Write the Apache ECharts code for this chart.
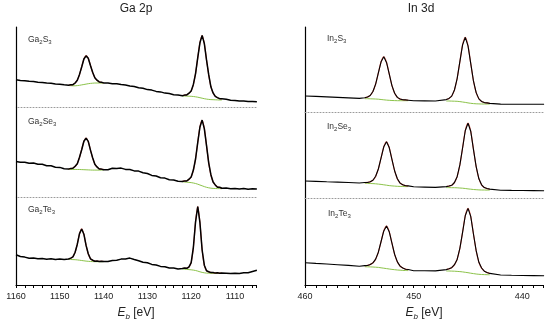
<!DOCTYPE html>
<html>
<head>
<meta charset="utf-8">
<script src="https://cdn.jsdelivr.net/npm/echarts@6/dist/echarts.min.js"></script>
<style>html,body{margin:0;padding:0;background:#fff}#c{width:550px;height:323px}</style>
</head>
<body>
<div id="c"></div>
<script>
// ---------- Ga 2p energies (eV) ----------
const GA_E = [1160,1159,1158,1157,1156,1155,1154,1153,1152,1151,1150,1149,
  1148,1147.5,1147,1146.5,1146,1145.5,1145,1144.5,1144,1143.5,1143,1142.5,1142,1141.5,1141,1140.5,1140,
  1139,1138,1137,1136,1135,1134,1133,1132,1131,1130,1129,1128,1127,1126,1125,1124,1123,
  1122,1121.5,1121,1120.5,1120,1119.5,1119,1118.5,1118,1117.5,1117,1116.5,1116,1115.5,1115,1114.5,1114,1113.5,1113,
  1112,1111,1110,1109,1108,1107,1106,1105];
const GA_E_P1 = [1148,1147.5,1147,1146.5,1146,1145.5,1145,1144.5,1144,1143.5,1143,1142.5,1142,1141.5,1141,1140.5,1140];
const GA_E_P2 = [1122,1121.5,1121,1120.5,1120,1119.5,1119,1118.5,1118,1117.5,1117,1116.5,1116,1115.5,1115,1114.5,1114,1113.5,1113];

// Ga2S3
const GA2S3_DATA = [27.2,26.6,26.3,25.7,25.4,24.8,24.6,24.0,23.8,23.1,22.7,22.2,
  21.8,22.2,22.3,24.0,26.7,32.6,40.0,48.0,51.2,48.8,41.5,34.7,29.3,26.8,25.1,24.7,24.1,
  23.9,23.3,23.3,22.5,22.1,21.0,20.5,19.2,18.7,17.4,16.9,15.6,15.1,13.9,13.4,12.3,11.9,
  11.3,11.9,12.1,13.8,16.1,22.6,33.4,49.4,64.2,71.6,63.5,47.1,32.3,20.2,14.1,10.6,9.4,8.3,8.2,
  7.8,6.8,6.5,5.9,5.9,5.5,5.5,5.2];
const GA2S3_FIT1 = [22.0,22.0,22.5,23.8,26.9,32.4,40.2,47.8,51.4,48.6,41.7,34.5,29.5,26.6,25.3,24.6,24.3];
const GA2S3_BG1 = [21.5,21.3,21.2,21.2,21.4,21.7,22.1,22.5,22.9,23.3,23.6,23.8,24.0,24.0,24.0,23.9,23.8];
const GA2S3_FIT2 = [11.5,11.8,12.2,13.6,16.3,22.4,33.6,49.2,64.4,71.5,63.4,47.3,32.1,20.4,13.9,10.8,9.3,8.5,8.1];
const GA2S3_BG2 = [11.0,11.0,10.9,10.8,10.7,10.5,10.2,9.8,9.3,8.8,8.3,7.9,7.6,7.4,7.3,7.2,7.1,7.0,7.0];

// Ga2Se3
const GA2SE3_DATA = [35.6,34.7,34.8,33.8,34.0,32.8,32.7,31.3,31.2,29.8,29.6,28.2,
  27.9,28.6,28.7,30.8,33.3,39.8,47.3,55.7,58.8,55.6,46.9,39.2,32.7,30.1,28.0,27.9,27.3,
  27.2,28.8,28.5,28.9,27.6,27.5,26.1,25.9,24.2,23.5,21.6,21.0,19.3,18.9,17.3,17.0,15.7,
  15.5,16.1,16.0,17.8,20.0,26.9,38.0,54.7,70.0,76.9,68.4,51.6,34.2,22.3,15.0,12.1,9.8,9.7,8.7,
  9.0,8.3,8.6,7.9,8.5,7.8,8.3,8.0];
const GA2SE3_FIT1 = [28.2,28.4,29.0,30.5,33.6,39.5,47.6,55.5,59.0,55.3,47.2,38.9,33.0,29.8,28.3,27.7,27.6];
const GA2SE3_BG1 = [27.6,27.6,27.6,27.6,27.5,27.5,27.4,27.3,27.2,27.1,27.0,26.9,26.9,26.9,26.9,26.9,27.0];
const GA2SE3_FIT2 = [15.8,15.9,16.3,17.5,20.3,26.6,38.2,54.5,70.2,76.7,68.6,51.4,34.4,22.0,15.2,11.8,10.1,9.4,9.0];
const GA2SE3_BG2 = [15.2,15.0,14.8,14.6,14.4,14.0,13.5,12.8,12.0,11.2,10.4,9.7,9.2,8.8,8.6,8.5,8.4,8.4,8.3];

// Ga2Te3
const GA2TE3_DATA = [30.2,28.5,27.9,26.7,26.9,26.2,26.6,25.8,26.3,25.6,26.1,25.5,
  26.0,26.9,28.1,32.8,40.8,51.4,56.0,50.8,39.6,31.2,26.2,24.8,23.8,24.0,23.5,23.8,23.4,
  23.4,24.5,24.7,25.9,26.1,26.9,25.5,24.3,22.7,22.2,20.6,20.0,18.6,18.2,17.0,16.9,16.0,
  16.4,16.9,16.7,18.1,22.4,37.7,63.2,78.5,62.3,35.0,19.8,14.2,13.3,12.4,12.5,11.9,12.2,11.7,12.0,
  11.8,11.5,11.8,11.6,12.2,12.3,13.5,14.7];
const GA2TE3_FIT1 = [26.3,26.7,28.3,32.6,41.0,51.2,56.2,50.6,39.8,31.0,26.4,24.6,24.0,23.8,23.7,23.6,23.6];
const GA2TE3_BG1 = [25.6,25.5,25.4,25.3,25.1,24.8,24.5,24.2,23.9,23.7,23.5,23.4,23.3,23.3,23.3,23.3,23.3];
const GA2TE3_FIT2 = [16.6,16.7,16.9,17.9,22.6,37.5,63.4,78.7,62.1,35.2,19.6,14.4,13.1,12.6,12.3,12.1,12.0,11.9,11.8];
const GA2TE3_BG2 = [16.0,15.8,15.6,15.4,15.2,14.9,14.5,13.9,13.2,12.6,12.2,11.9,11.8,11.7,11.7,11.6,11.6,11.6,11.6];

// ---------- In 3d energies (eV) ----------
const IN_E = [460,459,458,457,456,455,
  454.5,454.25,454,453.75,453.5,453.25,453,452.75,452.5,452.25,452,451.75,451.5,451.25,451,450.75,450.5,
  450,449,448,
  447,446.75,446.5,446.25,446,445.75,445.5,445.25,445,444.75,444.5,444.25,444,443.75,443.5,443.25,443,
  442,441,440,439,438];
const IN_E_P1 = [454.5,454.25,454,453.75,453.5,453.25,453,452.75,452.5,452.25,452,451.75,451.5,451.25,451,450.75,450.5];
const IN_E_P2 = [447,446.75,446.5,446.25,446,445.75,445.5,445.25,445,444.75,444.5,444.25,444,443.75,443.5,443.25,443];

// In2S3
const IN2S3_DATA = [16.0,15.6,15.1,14.6,14.1,13.6,
  14.2,15.0,16.5,20.5,27.9,39.2,50.2,55.3,49.6,38.1,26.4,18.8,14.6,13.0,12.2,12.1,11.8,
  11.2,11.1,11.0,
  12.4,13.6,15.9,22.0,33.4,50.3,67.1,74.7,66.2,48.6,31.1,19.4,13.1,10.6,9.4,9.1,8.6,
  7.9,7.8,7.8,7.7,7.7];
const IN2S3_FIT1 = [14.3,14.9,16.6,20.4,28.0,39.1,50.3,55.2,49.7,38.0,26.5,18.7,14.7,12.9,12.3,12.0,11.9];
const IN2S3_BG1 = [13.3,13.3,13.2,13.1,13.0,12.8,12.5,12.2,11.9,11.7,11.5,11.4,11.3,11.3,11.3,11.3,11.3];
const IN2S3_FIT2 = [12.5,13.5,16.0,21.9,33.5,50.2,67.2,74.6,66.3,48.5,31.2,19.3,13.2,10.5,9.5,9.1,8.7];
const IN2S3_BG2 = [11.0,11.0,10.9,10.8,10.7,10.4,10.0,9.6,9.1,8.7,8.4,8.2,8.1,8.0,8.0,8.0,7.9];

// In2Se3
const IN2SE3_DATA = [17.0,16.6,16.2,15.9,15.5,15.0,
  15.5,15.5,16.2,17.7,21.7,29.0,40.2,51.2,56.2,50.4,38.7,27.0,19.2,14.9,13.2,12.3,12.1,
  11.2,10.9,10.6,
  11.4,12.0,12.7,15.5,21.3,33.1,50.0,67.5,74.8,66.8,48.7,31.4,19.2,13.2,10.4,9.5,8.9,
  7.8,7.6,7.5,7.4,7.3];
const IN2SE3_FIT1 = [15.4,15.6,16.1,17.8,21.6,29.1,40.1,51.3,56.1,50.5,38.6,27.1,19.1,15.0,13.1,12.4,12.1];
const IN2SE3_BG1 = [14.7,14.6,14.5,14.4,14.2,13.9,13.6,13.2,12.8,12.4,12.1,11.9,11.7,11.6,11.5,11.4,11.4];
const IN2SE3_FIT2 = [11.5,11.9,12.8,15.4,21.4,33.0,50.1,67.4,74.9,66.7,48.8,31.3,19.3,13.1,10.5,9.4,9.0];
const IN2SE3_BG2 = [10.4,10.4,10.3,10.3,10.2,10.0,9.8,9.5,9.1,8.8,8.5,8.3,8.1,8.0,8.0,7.9,7.9];

// In2Te3
const IN2TE3_DATA = [22.3,21.6,21.0,20.3,19.6,18.8,
  19.4,19.5,20.5,22.1,25.9,32.8,43.5,54.1,59.0,53.3,41.9,30.5,23.1,18.9,17.0,15.8,15.5,
  14.3,14.2,14.1,
  15.4,16.2,17.3,20.3,25.6,36.7,52.7,69.5,76.6,68.6,51.0,34.3,22.7,17.0,13.8,12.5,11.6,
  10.0,9.7,9.5,9.4,9.3];
const IN2TE3_FIT1 = [19.3,19.6,20.4,22.2,25.8,32.9,43.4,54.2,58.9,53.4,41.8,30.6,23.0,19.0,16.9,15.9,15.4];
const IN2TE3_BG1 = [18.3,18.2,18.1,18.0,17.8,17.6,17.2,16.8,16.4,16.0,15.6,15.3,15.0,14.8,14.6,14.5,14.4];
const IN2TE3_FIT2 = [15.5,16.1,17.4,20.2,25.7,36.6,52.8,69.4,76.7,68.5,51.1,34.2,22.8,16.9,13.9,12.4,11.7];
const IN2TE3_BG2 = [14.0,14.0,13.9,13.8,13.6,13.4,13.1,12.7,12.3,11.8,11.4,11.0,10.7,10.5,10.4,10.3,10.2];

// tick labels
const GA_TICK_LABELS = [1160,1150,1140,1130,1120,1110];
const IN_TICK_LABELS = [460,450,440];
const TITLES = ['Ga 2p','In 3d'];

// ---------- build chart ----------
const FONT = 'Liberation Sans, Arial, sans-serif';
const GREEN = '#8cc34a', RED = '#e0483c';

const panels = [
  {name:['Ga','2','S','3'], E:GA_E, E1:GA_E_P1, E2:GA_E_P2, d:GA2S3_DATA, f1:GA2S3_FIT1, b1:GA2S3_BG1, f2:GA2S3_FIT2, b2:GA2S3_BG2},
  {name:['Ga','2','Se','3'], E:GA_E, E1:GA_E_P1, E2:GA_E_P2, d:GA2SE3_DATA, f1:GA2SE3_FIT1, b1:GA2SE3_BG1, f2:GA2SE3_FIT2, b2:GA2SE3_BG2},
  {name:['Ga','2','Te','3'], E:GA_E, E1:GA_E_P1, E2:GA_E_P2, d:GA2TE3_DATA, f1:GA2TE3_FIT1, b1:GA2TE3_BG1, f2:GA2TE3_FIT2, b2:GA2TE3_BG2},
  {name:['In','2','S','3'], E:IN_E, E1:IN_E_P1, E2:IN_E_P2, d:IN2S3_DATA, f1:IN2S3_FIT1, b1:IN2S3_BG1, f2:IN2S3_FIT2, b2:IN2S3_BG2},
  {name:['In','2','Se','3'], E:IN_E, E1:IN_E_P1, E2:IN_E_P2, d:IN2SE3_DATA, f1:IN2SE3_FIT1, b1:IN2SE3_BG1, f2:IN2SE3_FIT2, b2:IN2SE3_BG2},
  {name:['In','2','Te','3'], E:IN_E, E1:IN_E_P1, E2:IN_E_P2, d:IN2TE3_DATA, f1:IN2TE3_FIT1, b1:IN2TE3_BG1, f2:IN2TE3_FIT2, b2:IN2TE3_BG2}
];
// layout: [left, width, top, height]
const layout = [
  [16,240,27,80],[16,240,107,90],[16,240,197,88],
  [305,238,27,85],[305,238,112,86],[305,238,198,87]
];
const labelPos = [[28,35],[28,117],[28,205],[327,34],[327,122],[328,209]];

const zip = (xs, ys) => xs.map((x,i) => [x, ys[i]]);

const grid = [], xAxis = [], yAxis = [], series = [], graphic = [];
panels.forEach((p, i) => {
  const [l,w,t,h] = layout[i];
  const isGa = i < 3;
  const bottom = (i === 2 || i === 5);
  grid.push({left:l, top:t, width:w, height:h});
  const ticks = isGa ? GA_TICK_LABELS : IN_TICK_LABELS;
  xAxis.push({
    type:'value', gridIndex:i, inverse:true,
    min: isGa ? 1105.2 : 438.1, max: isGa ? 1160 : 460,
    splitNumber: isGa ? 5 : 2,
    axisLine: bottom ? {show:true, onZero:false, lineStyle:{color:'#000', width:1.2}}
                     : {show:true, onZero:false, lineStyle:{color:'#9a9a9a', width:1, type:[1,2]}},
    axisTick: {show:bottom, length:3, lineStyle:{color:'#000', width:1}},
    minorTick: {show:bottom, splitNumber: isGa ? 5 : 10, length:3, lineStyle:{color:'#000', width:1}},
    axisLabel: {show:bottom, margin:7, fontSize:9, color:'#222', fontFamily:FONT,
      formatter: v => ticks.indexOf(Math.round(v*10)/10) >= 0 ? String(v) : ''},
    splitLine:{show:false}, minorSplitLine:{show:false},
    name: bottom ? '{e|E}{b|b}{n| [eV]}' : '',
    nameLocation:'middle', nameGap:20,
    nameTextStyle:{fontFamily:FONT, color:'#222', rich:{
      e:{fontSize:12, fontStyle:'italic', lineHeight:16, fontFamily:FONT, color:'#222'},
      b:{fontSize:8, fontStyle:'italic', lineHeight:8, verticalAlign:'bottom', fontFamily:FONT, color:'#222'},
      n:{fontSize:12, lineHeight:16, fontFamily:FONT, color:'#222'}
    }}
  });
  yAxis.push({
    type:'value', gridIndex:i, min:0, max:h,
    axisLine:{show:true, onZero:false, lineStyle:{color:'#000', width:1.2}},
    axisTick:{show:false}, axisLabel:{show:false}, splitLine:{show:false}
  });
  const common = {type:'line', xAxisIndex:i, yAxisIndex:i, showSymbol:false, symbol:'none', silent:true, animation:false};
  series.push(Object.assign({}, common, {data:zip(p.E1,p.b1), smooth:0.3, z:1, lineStyle:{color:GREEN, width:1}}));
  series.push(Object.assign({}, common, {data:zip(p.E2,p.b2), smooth:0.3, z:1, lineStyle:{color:GREEN, width:1}}));
  series.push(Object.assign({}, common, {data:zip(p.E1,p.f1), smooth:0.3, z:2, lineStyle:{color:RED, width:1.2, opacity:0.8}}));
  series.push(Object.assign({}, common, {data:zip(p.E2,p.f2), smooth:0.3, z:2, lineStyle:{color:RED, width:1.2, opacity:0.8}}));
  series.push(Object.assign({}, common, {data:zip(p.E,p.d), z:3, lineStyle:{color:'#000', width:isGa?1.5:1.1}}));
  const [lx, ly] = labelPos[i];
  graphic.push({type:'text', left:lx, top:ly, silent:true, style:{
    text:'{m|'+p.name[0]+'}{s|'+p.name[1]+'}{m|'+p.name[2]+'}{s|'+p.name[3]+'}',
    rich:{
      m:{fontSize:8.5, lineHeight:11, fontFamily:FONT, fill:'#333'},
      s:{fontSize:6, lineHeight:6, verticalAlign:'bottom', fontFamily:FONT, fill:'#333'}
    }
  }});
});
graphic.push({type:'text', x:136, y:3, silent:true, style:{text:TITLES[0], fontSize:12, fontFamily:FONT, fill:'#222', textAlign:'center', textVerticalAlign:'top'}});
graphic.push({type:'text', x:421, y:3, silent:true, style:{text:TITLES[1], fontSize:12, fontFamily:FONT, fill:'#222', textAlign:'center', textVerticalAlign:'top'}});

const chart = echarts.init(document.getElementById('c'), null, {renderer:'canvas'});
chart.setOption({animation:false, backgroundColor:'#fff', grid, xAxis, yAxis, series, graphic});
</script>
</body>
</html>
